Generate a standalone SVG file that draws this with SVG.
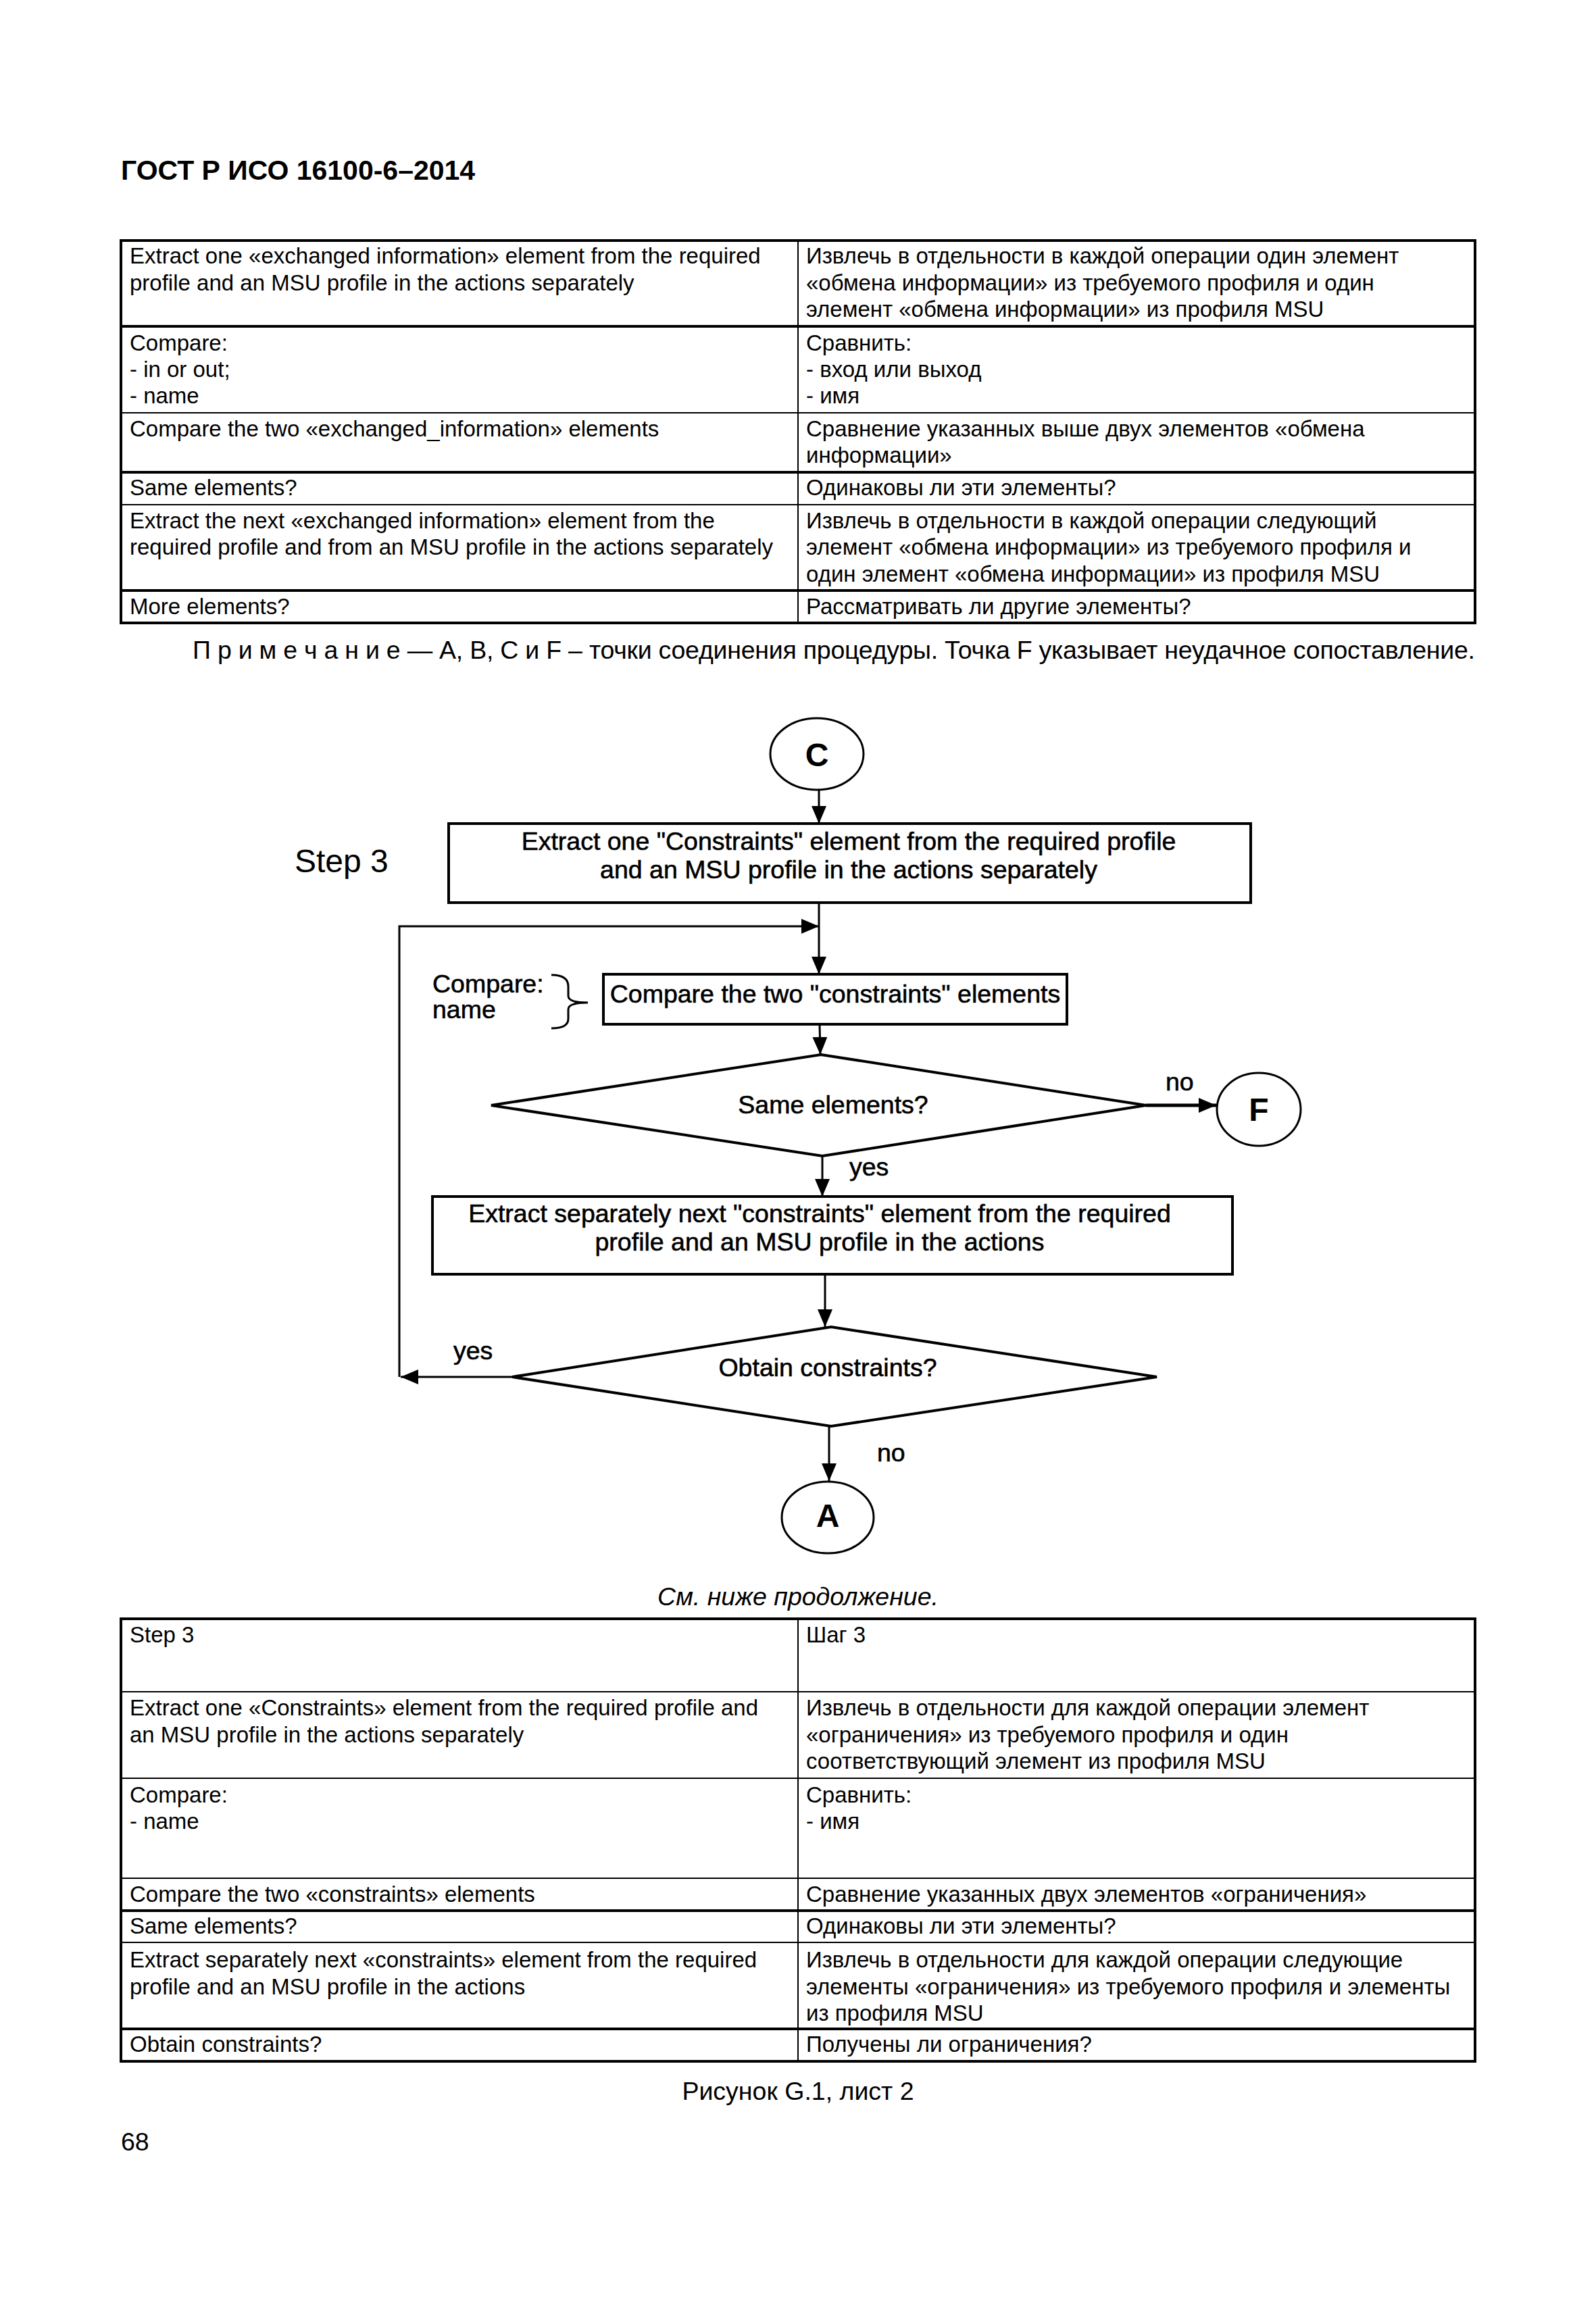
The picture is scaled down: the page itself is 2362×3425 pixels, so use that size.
<svg xmlns="http://www.w3.org/2000/svg" width="2362" height="3425" viewBox="0 0 2362 3425">
<style>
text{font-family:"Liberation Sans",Arial,sans-serif;fill:#000}
.t{font-size:33px}
.cap{font-size:37.5px}
.fc{font-size:37.5px;stroke:#000;stroke-width:0.6}
.c{text-anchor:middle}
.lbl{font-size:48px;font-weight:bold;text-anchor:middle}
.thin{stroke:#000;stroke-width:2;fill:none}
.thick{stroke:#000;stroke-width:4;fill:none}
.shape{stroke:#000;stroke-width:4;fill:#fff}
.conn{stroke:#000;stroke-width:3;fill:none}
</style>
<defs>
<marker id="ah" markerUnits="userSpaceOnUse" markerWidth="26" markerHeight="22" refX="26" refY="11" orient="auto"><path d="M0,0 L26,11 L0,22 z" fill="#000"/></marker>
</defs>
<rect width="2362" height="3425" fill="#fff"/>

<text x="179" y="266" style="font-size:41px;font-weight:bold">ГОСТ Р ИСО 16100-6–2014</text>

<g id="table1">
<rect x="179" y="356" width="2004" height="566" class="thick"/>
<line x1="1181" y1="356" x2="1181" y2="922" class="thin"/>
<line x1="179" y1="483" x2="2183" y2="483" class="thick"/>
<line x1="179" y1="611" x2="2183" y2="611" class="thin"/>
<line x1="179" y1="699" x2="2183" y2="699" class="thick"/>
<line x1="179" y1="747" x2="2183" y2="747" class="thin"/>
<line x1="179" y1="874" x2="2183" y2="874" class="thick"/>
<g class="t">
<text x="192" y="390">Extract one «exchanged information» element from the required</text>
<text x="192" y="430">profile and an MSU profile in the actions separately</text>
<text x="1193" y="390">Извлечь в отдельности в каждой операции один элемент</text>
<text x="1193" y="430">«обмена информации» из требуемого профиля и один</text>
<text x="1193" y="469">элемент «обмена информации» из профиля MSU</text>
<text x="192" y="519">Compare:</text>
<text x="192" y="558">- in or out;</text>
<text x="192" y="597">- name</text>
<text x="1193" y="519">Сравнить:</text>
<text x="1193" y="558">- вход или выход</text>
<text x="1193" y="597">- имя</text>
<text x="192" y="646">Compare the two «exchanged_information» elements</text>
<text x="1193" y="646">Сравнение указанных выше двух элементов «обмена</text>
<text x="1193" y="685">информации»</text>
<text x="192" y="733">Same elements?</text>
<text x="1193" y="733">Одинаковы ли эти элементы?</text>
<text x="192" y="782">Extract the next «exchanged information» element from the</text>
<text x="192" y="821">required profile and from an MSU profile in the actions separately</text>
<text x="1193" y="782">Извлечь в отдельности в каждой операции следующий</text>
<text x="1193" y="821">элемент «обмена информации» из требуемого профиля и</text>
<text x="1193" y="861">один элемент «обмена информации» из профиля MSU</text>
<text x="192" y="909">More elements?</text>
<text x="1193" y="909">Рассматривать ли другие элементы?</text>
</g>
</g>

<text class="cap" x="285" y="975" textLength="1898" lengthAdjust="spacing">П р и м е ч а н и е  — A, B, C и F – точки соединения процедуры. Точка F указывает неудачное сопоставление.</text>

<g id="connectors">
<line x1="1212" y1="1169" x2="1212" y2="1219" class="conn" marker-end="url(#ah)"/>
<line x1="1212" y1="1336" x2="1212" y2="1442" class="conn" marker-end="url(#ah)"/>
<polyline points="591,2038 591,1371 1212,1371" class="conn" marker-end="url(#ah)"/>
<line x1="1213" y1="1516" x2="1214" y2="1561" class="conn" marker-end="url(#ah)"/>
<line x1="1696" y1="1636" x2="1800" y2="1636" stroke="#000" stroke-width="5" marker-end="url(#ah)"/>
<line x1="1217" y1="1711" x2="1217" y2="1771" class="conn" marker-end="url(#ah)"/>
<line x1="1221" y1="1886" x2="1221" y2="1964" class="conn" marker-end="url(#ah)"/>
<line x1="758" y1="2038" x2="593" y2="2038" class="conn" marker-end="url(#ah)"/>
<line x1="1227" y1="2111" x2="1227" y2="2192" class="conn" marker-end="url(#ah)"/>
<text class="fc" x="1725" y="1614">no</text>
<text class="fc" x="1257" y="1740">yes</text>
<text class="fc" x="671" y="2012">yes</text>
<text class="fc" x="1298" y="2163">no</text>
</g>

<g id="nodeC">
<ellipse cx="1209" cy="1116" rx="69" ry="53" stroke="#000" stroke-width="3" fill="#fff"/>
<text class="lbl" x="1209" y="1134">C</text>
</g>

<text x="436" y="1291" style="font-size:48px">Step 3</text>

<g id="box1">
<rect x="664" y="1219" width="1187" height="117" class="shape"/>
<text class="fc c" x="1256" y="1258">Extract one "Constraints" element from the required profile</text>
<text class="fc c" x="1256" y="1300">and an MSU profile in the actions separately</text>
</g>

<g id="compareNote">
<text class="fc" x="640" y="1469">Compare:</text>
<text class="fc" x="640" y="1507">name</text>
<path d="M816,1443 Q841,1443 841,1460 L841,1474 Q841,1484 870,1484 Q841,1484 841,1494 L841,1508 Q841,1522 816,1522" class="conn"/>
</g>

<g id="box2">
<rect x="893" y="1442" width="686" height="74" class="shape"/>
<text class="fc c" x="1236" y="1484">Compare the two "constraints" elements</text>
</g>

<g id="diamond1">
<polygon points="1215,1561 1696,1636 1217,1711 727,1636" class="shape"/>
<text class="fc c" x="1233" y="1648">Same elements?</text>
</g>

<g id="nodeF">
<ellipse cx="1863" cy="1642" rx="62" ry="54" stroke="#000" stroke-width="3" fill="#fff"/>
<text class="lbl" x="1863" y="1659">F</text>
</g>

<g id="box3">
<rect x="640" y="1771" width="1184" height="115" class="shape"/>
<text class="fc c" x="1213" y="1809">Extract separately next "constraints" element from the required</text>
<text class="fc c" x="1213" y="1851">profile and an MSU profile in the actions</text>
</g>

<g id="diamond2">
<polygon points="1230,1964 1712,2038 1230,2111 758,2038" class="shape"/>
<text class="fc c" x="1225" y="2037">Obtain constraints?</text>
</g>

<g id="nodeA">
<ellipse cx="1225" cy="2246" rx="68" ry="53" stroke="#000" stroke-width="3" fill="#fff"/>
<text class="lbl" x="1225" y="2260">A</text>
</g>

<text class="cap c" x="1181" y="2376" style="font-style:italic">См. ниже продолжение.</text>

<g id="table2">
<rect x="179" y="2396" width="2004" height="655" class="thick"/>
<line x1="1181" y1="2396" x2="1181" y2="3051" class="thin"/>
<line x1="179" y1="2504" x2="2183" y2="2504" class="thin"/>
<line x1="179" y1="2632" x2="2183" y2="2632" class="thin"/>
<line x1="179" y1="2780" x2="2183" y2="2780" class="thin"/>
<line x1="179" y1="2828" x2="2183" y2="2828" class="thick"/>
<line x1="179" y1="2875" x2="2183" y2="2875" class="thin"/>
<line x1="179" y1="3003" x2="2183" y2="3003" class="thick"/>
<g class="t">
<text x="192" y="2431">Step 3</text>
<text x="1193" y="2431">Шаг 3</text>
<text x="192" y="2539">Extract one «Constraints» element from the required profile and</text>
<text x="192" y="2579">an MSU profile in the actions separately</text>
<text x="1193" y="2539">Извлечь в отдельности для каждой операции элемент</text>
<text x="1193" y="2579">«ограничения» из требуемого профиля и один</text>
<text x="1193" y="2618">соответствующий элемент из профиля MSU</text>
<text x="192" y="2668">Compare:</text>
<text x="192" y="2707">- name</text>
<text x="1193" y="2668">Сравнить:</text>
<text x="1193" y="2707">- имя</text>
<text x="192" y="2815">Compare the two «constraints» elements</text>
<text x="1193" y="2815">Сравнение указанных двух элементов «ограничения»</text>
<text x="192" y="2862">Same elements?</text>
<text x="1193" y="2862">Одинаковы ли эти элементы?</text>
<text x="192" y="2912">Extract separately next «constraints» element from the required</text>
<text x="192" y="2952">profile and an MSU profile in the actions</text>
<text x="1193" y="2912">Извлечь в отдельности для каждой операции следующие</text>
<text x="1193" y="2952">элементы «ограничения» из требуемого профиля и элементы</text>
<text x="1193" y="2991">из профиля MSU</text>
<text x="192" y="3037">Obtain constraints?</text>
<text x="1193" y="3037">Получены ли ограничения?</text>
</g>
</g>

<text class="cap c" x="1181" y="3108">Рисунок G.1, лист 2</text>
<text class="cap" x="179" y="3183">68</text>
</svg>
